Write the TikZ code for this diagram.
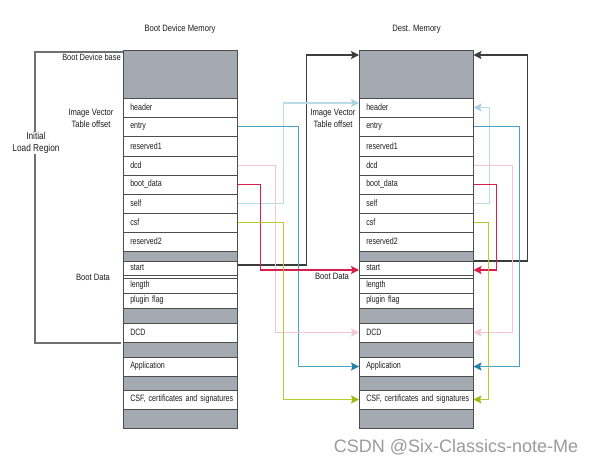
\documentclass[tikz,border=0pt]{standalone}
\usepackage{fontspec}
\setmainfont{Liberation Sans}[FakeStretch=0.77]
\newfontfamily\titlefont{Liberation Sans}[FakeStretch=0.83]
\newfontfamily\wmfont{Liberation Sans}
\usetikzlibrary{arrows.meta}
\definecolor{cellgrey}{RGB}{163,170,178}
\definecolor{cellborder}{RGB}{77,77,77}
\definecolor{txt}{RGB}{30,30,30}
\definecolor{blk}{RGB}{60,60,60}
\definecolor{brkc}{RGB}{112,112,112}
\definecolor{lblue}{RGB}{184,220,230}
\definecolor{lblueH}{RGB}{168,210,224}
\definecolor{mblue}{RGB}{75,163,196}
\definecolor{mblueH}{RGB}{38,128,166}
\definecolor{pinkc}{RGB}{245,198,210}
\definecolor{redc}{RGB}{214,31,77}
\definecolor{greenc}{RGB}{181,204,46}
\definecolor{greenH}{RGB}{160,185,20}
\definecolor{wmc}{RGB}{155,155,155}
\begin{document}
\begin{tikzpicture}[x=1pt,y=-1pt,
  font=\fontsize{9.2}{11}\selectfont, text=txt,
  cell/.style={draw=cellborder, line width=0.8pt, fill=white, text width=100pt,
    align=left, inner xsep=7pt, inner ysep=0pt, minimum width=114.5pt, outer sep=0pt},
  gcell/.style={draw=cellborder, line width=0.8pt, inner sep=0pt,
    minimum width=114.5pt, outer sep=0pt},
  conn/.style={line width=1.1pt},
  tip/.style={-{Stealth[length=8pt,width=8pt,inset=1.5pt,#1]}},
  lab/.style={align=center, font=\titlefont\fontsize{9.2}{12}\selectfont},
]
\fill[white] (0,0) rectangle (598,464);
\useasboundingbox (0,0) rectangle (598,464);

% column titles
\node[font=\titlefont\fontsize{9.2}{11}\selectfont] (t1) at (180,29) {Boot Device Memory};
\node[font=\titlefont\fontsize{9.2}{11}\selectfont] (t2) at (416.5,29) {Dest. Memory};

\foreach \cc/\xl in {L/123, R/359} {
  \foreach \rn/\rt/\rb/\rf in {g0/50/98/cellgrey, g1/251/261/cellgrey, gap/275/278/white,
      g2/308/323/cellgrey, g3/342/357/cellgrey, g4/376/390/cellgrey, g5/409/428/cellgrey} {
    \node[gcell, fill=\rf, minimum height={(\rb-\rt)*1pt}] (\cc\rn) at ({\xl+57.25},{(\rt+\rb)/2}) {};
  }
  \foreach \rn/\rt/\rb/\rx in {hdr/98/117/header, ent/117/136.5/entry, res1/136.5/156/reserved1,
      dcd/156/175/dcd, boot/175/194/boot\_data, self/194/213/self, csf/213/232/csf,
      res2/232/251/reserved2, start/261/275/start, len/278/293/length, plug/293/308/plugin flag,
      DCD/323/342/DCD, app/357/376/Application, CSF/390/409/{CSF, certificates and signatures}} {
    \node[cell, minimum height={(\rb-\rt)*1pt}] (\cc\rn) at ({\xl+57.25},{(\rt+\rb)/2}) {\mbox{\rx}};
  }
}

% initial load region bracket
\draw[brkc, line width=1.1pt] ([yshift=-2pt]Lg0.north west) -- ++(-88,0)
  |- ([xshift=-2pt,yshift=-1pt]LDCD.south west);

% left labels
\node[anchor=east, inner sep=0pt, font=\titlefont\fontsize{9}{11}\selectfont] (bdb) at (121,57) {Boot Device base};
\node[lab] (ivt1) at (91,118) {Image Vector\\Table offset};
\node[lab, fill=white, inner sep=1pt, font=\titlefont\fontsize{10}{11.5}\selectfont] (ilr) at (36,143) {Initial\\Load Region};
\node[font=\titlefont\fontsize{9.2}{11}\selectfont] (bd1) at (93,277) {Boot Data};
% right labels
\node[lab] (ivt2) at (333,118) {Image Vector\\Table offset};
\node[font=\titlefont\fontsize{9.2}{11}\selectfont] (bd2) at (332,276) {Boot Data};

% black: start -> dest base
\draw[conn, blk, tip] ([yshift=3pt]Lstart.east) -- ++(69,0) |- ([yshift=-5pt]Rg0.north west);
\draw[conn, blk, tip] (Rstart.north east) -- ++(54,0) |- ([yshift=-5pt]Rg0.north east);

% light blue: self -> header
\draw[conn, lblue, tip={color=lblueH}] (Lself.east) -- ++(46,0) |- ([yshift=4.5pt]Rhdr.west);
\draw[conn, lblue, tip={color=lblueH}] (Rself.east) -- ++(16,0) |- (Rhdr.east);

% blue: entry -> application
\draw[conn, mblue, tip={color=mblueH}] (Lent.east) -- ++(61,0) |- (Rapp.west);
\draw[conn, mblue, tip={color=mblueH}] (Rent.east) -- ++(46,0) |- (Rapp.east);

% pink: dcd -> DCD
\draw[conn, pinkc, tip] (Ldcd.east) -- ++(38,0) |- (RDCD.west);
\draw[conn, pinkc, tip] (Rdcd.east) -- ++(39,0) |- (RDCD.east);

% red: boot_data -> start
\draw[conn, redc, tip] (Lboot.east) -- ++(23,0) |- ([yshift=-2pt]Rstart.west);
\draw[conn, redc, tip] (Rboot.east) -- ++(23,0) |- ([yshift=-2pt]Rstart.east);

% green: csf -> CSF
\draw[conn, greenc, tip={color=greenH}] (Lcsf.east) -- ++(46,0) |- (RCSF.west);
\draw[conn, greenc, tip={color=greenH}] (Rcsf.east) -- ++(15,0) |- (RCSF.east);

% watermark
\node[text=wmc, font=\wmfont\fontsize{18}{20}\selectfont] (wm) at (456,447) {CSDN @Six-Classics-note-Me};
\end{tikzpicture}
\end{document}
